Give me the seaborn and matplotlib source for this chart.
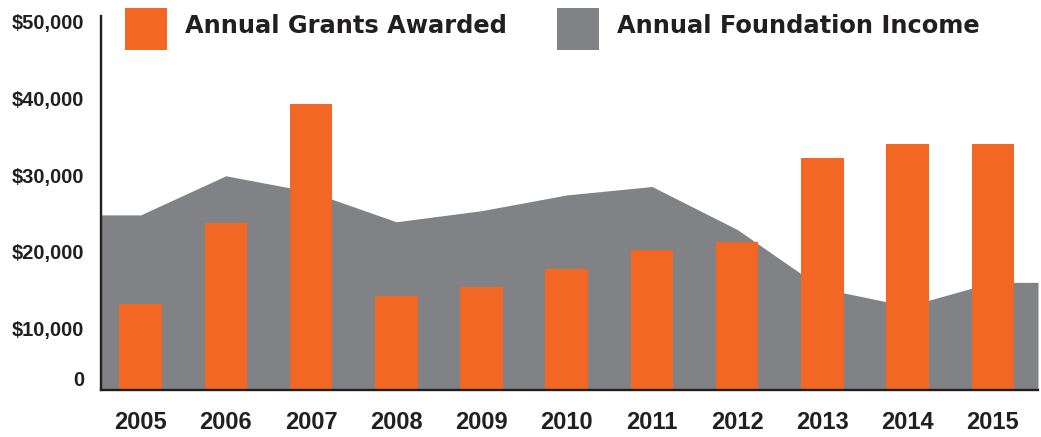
import numpy as np
import pandas as pd
import seaborn as sns
import matplotlib
matplotlib.use("Agg")
from matplotlib import pyplot as plt
from matplotlib.patches import Rectangle

# data
years = ["2005", "2006", "2007", "2008", "2009", "2010", "2011", "2012", "2013", "2014", "2015"]
grants = [13200, 23700, 39300, 14200, 15350, 17700, 20200, 21300, 32200, 34100, 34100]
income = [24800, 29900, 27800, 23900, 25350, 27400, 28500, 22900, 15200, 12900, 16000]
y_ticks = [10000, 20000, 30000, 40000, 50000]
y_labels = ["$10,000", "$20,000", "$30,000", "$40,000", "$50,000"]
legend_labels = ["Annual Grants Awarded", "Annual Foundation Income"]

ORANGE = "#F16723"
GREY = "#818286"
INK = "#231F20"
W, H = 1041, 437

sns.set_theme(style="white")
plt.rcParams["font.family"] = ["Liberation Sans Narrow", "Liberation Sans", "DejaVu Sans"]

df = pd.DataFrame({"year": years, "grants": grants, "income": income})

fig = plt.figure(figsize=(W / 100, H / 100), dpi=100)
ax = fig.add_axes([101 / W, 47 / H, 937 / W, 374 / H])

# grey income area, stretched flat to both ends of the axis
x_lo, x_hi = -0.465, 10.53
pos = np.arange(len(years))
xs = np.concatenate([[x_lo], pos, [x_hi]])
ys = np.concatenate([[income[0]], income, [income[-1]]])
ax.fill_between(xs, 0, ys, color=GREY, lw=0, zorder=1)

sns.barplot(data=df, x="year", y="grants", color=ORANGE, saturation=1,
            width=0.5, linewidth=0, edgecolor="none", ax=ax, zorder=2)

ax.set_xlim(x_lo, x_hi)
ax.set_ylim(1960, 50740)
ax.set_yticks(y_ticks, y_labels)
ax.set_xlabel("")
ax.set_ylabel("")

ax.tick_params(axis="y", length=0, pad=12, labelsize=14.5, labelcolor=INK)
ax.tick_params(axis="x", length=0, pad=15, labelsize=17, labelcolor=INK)
for lbl in ax.get_xticklabels() + ax.get_yticklabels():
    lbl.set_fontweight("bold")

# the "0" label sits just above the baseline in the original
ax.annotate("0", xy=(0, 10 / 374), xycoords="axes fraction", xytext=(-12, 0),
            textcoords="offset points", ha="right", va="center",
            fontsize=14.5, fontweight="bold", color=INK)

sns.despine(ax=ax)
for side in ["left", "bottom"]:
    ax.spines[side].set_color(INK)
    ax.spines[side].set_linewidth(1.7)

# legend: big swatches + bold text across the top
for x0, col in [(125, ORANGE), (557, GREY)]:
    fig.add_artist(Rectangle((x0 / W, (H - 50) / H), 42 / W, 42 / H,
                             color=col, transform=fig.transFigure, lw=0))
for x0, txt in [(185, legend_labels[0]), (617, legend_labels[1])]:
    fig.text(x0 / W, (H - 33) / H, txt, fontsize=17.4, fontweight="heavy",
             family="DejaVu Sans", va="baseline", color=INK)

fig.savefig("out.png", dpi=100)
